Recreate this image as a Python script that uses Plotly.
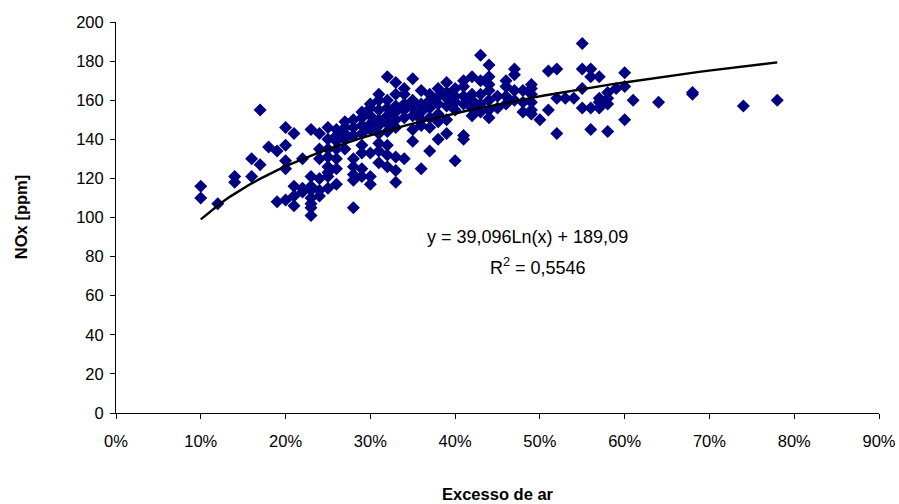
import numpy as np
import plotly.graph_objects as go

# Excess air (%) columns and NOx readings (ppm)
excess_pct = [10, 12, 14, 16, 17, 18, 19, 20, 21, 22, 23, 24, 25, 26, 27, 28, 29, 30,
              31, 32, 33, 34, 35, 36, 37, 38, 39, 40, 41, 42, 43, 44, 45, 46, 47, 48,
              49, 50, 51, 52, 53, 54, 55, 56, 57, 58, 59, 60, 61, 64, 68, 74, 78]
nox_ppm = [
    [116, 110],
    [107],
    [121, 118],
    [130, 121],
    [155, 127],
    [136],
    [134, 108],
    [146, 137, 129, 125, 109],
    [143, 116, 111, 106],
    [130, 115, 113],
    [145, 121, 116, 114, 110, 107, 105, 101],
    [143, 135, 130, 120, 114, 111],
    [146, 140, 135, 131, 126, 123, 121, 115],
    [145, 142, 139, 135, 130, 125, 117],
    [149, 146, 143, 140, 135],
    [150, 146, 142, 130, 126, 122, 119, 105],
    [154, 151, 147, 143, 137, 133, 125, 121],
    [158, 156, 152, 148, 145, 133, 121, 117],
    [163, 160, 155, 150, 147, 143, 138, 134, 128],
    [172, 160, 156, 152, 148, 144, 137, 132, 126],
    [169, 163, 157, 154, 150, 146, 131, 124, 118],
    [166, 163, 158, 155, 151, 130],
    [171, 160, 156, 152, 145, 139],
    [165, 158, 154, 150, 147, 125],
    [163, 160, 156, 151, 146, 134],
    [166, 162, 158, 153, 149, 140],
    [169, 164, 161, 157, 150, 143],
    [166, 162, 159, 155, 129],
    [170, 167, 162, 158, 142, 140],
    [172, 163, 160, 156, 152],
    [183, 170, 163, 158, 154],
    [178, 172, 168, 165, 160, 155, 151],
    [162, 156],
    [170, 167, 162, 158],
    [176, 173, 165, 160],
    [165, 159, 154],
    [168, 166, 163, 159, 155, 153],
    [150],
    [175, 155],
    [176, 161, 143],
    [161],
    [161],
    [189, 176, 166, 156],
    [176, 172, 156, 145],
    [172, 161, 159, 156],
    [164, 161, 158, 144],
    [166],
    [174, 167, 150],
    [160],
    [159],
    [164, 163],
    [157],
    [160],
]

# Logarithmic trendline as printed on the chart
trend_a = 39.096
trend_b = 189.09
trend_x_start = 0.10
trend_x_end = 0.78

y_ticks = list(range(0, 201, 20))
x_ticks = [i / 10 for i in range(0, 10)]
x_tick_labels = [f"{i*10}%" for i in range(0, 10)]

xs, ys = [], []
for p, vals in zip(excess_pct, nox_ppm):
    for v in vals:
        xs.append(p / 100)
        ys.append(v)

tx = np.linspace(trend_x_start, trend_x_end, 60)
ty = trend_a * np.log(tx) + trend_b

FONT = "Liberation Sans, Arial, Helvetica, sans-serif"

fig = go.Figure()
fig.add_trace(go.Scatter(
    x=xs, y=ys, mode="markers",
    marker=dict(symbol="diamond", size=10, color="#000080",
                line=dict(width=0)),
    showlegend=False, hoverinfo="x+y"))
fig.add_trace(go.Scatter(
    x=tx, y=ty, mode="lines",
    line=dict(color="black", width=2.4),
    showlegend=False, hoverinfo="skip"))

fig.update_layout(
    width=899, height=504,
    margin=dict(l=116, r=20, t=22, b=91),
    paper_bgcolor="white", plot_bgcolor="white",
    font=dict(family=FONT, size=16.5, color="black"),
    xaxis=dict(range=[0, 0.9], tickvals=x_ticks, ticktext=x_tick_labels,
               showgrid=False, zeroline=False, showline=True,
               linecolor="black", linewidth=1, ticks="outside",
               ticklen=5, tickcolor="black", tickfont=dict(size=16.5),
               ticklabelstandoff=8, automargin=False),
    yaxis=dict(range=[0, 200], tickvals=y_ticks,
               showgrid=False, zeroline=False, showline=True,
               linecolor="black", linewidth=1, ticks="outside",
               ticklen=5, tickcolor="black", tickfont=dict(size=16.5),
               ticklabelstandoff=3, automargin=False),
    annotations=[
        dict(text="y = 39,096Ln(x) + 189,09", x=0.4848, y=90, xref="x", yref="y",
             showarrow=False, xanchor="center", yanchor="middle",
             font=dict(size=18)),
        dict(text="R<sup>2</sup> = 0,5546", x=0.4978, y=75, xref="x", yref="y",
             showarrow=False, xanchor="center", yanchor="middle",
             font=dict(size=18)),
        dict(text="<b>NOx [ppm]</b>", x=-0.125, y=0.5, xref="paper", yref="paper",
             textangle=-90, showarrow=False, xanchor="center", yanchor="middle",
             font=dict(size=16.5)),
        dict(text="<b>Excesso de ar</b>", x=0.5, y=-0.207, xref="paper", yref="paper",
             showarrow=False, xanchor="center", yanchor="middle",
             font=dict(size=16.5)),
    ],
)

fig.write_html("out.html", config={"displayModeBar": False},
               post_script="document.body.style.margin='0';document.body.style.overflow='hidden';")
